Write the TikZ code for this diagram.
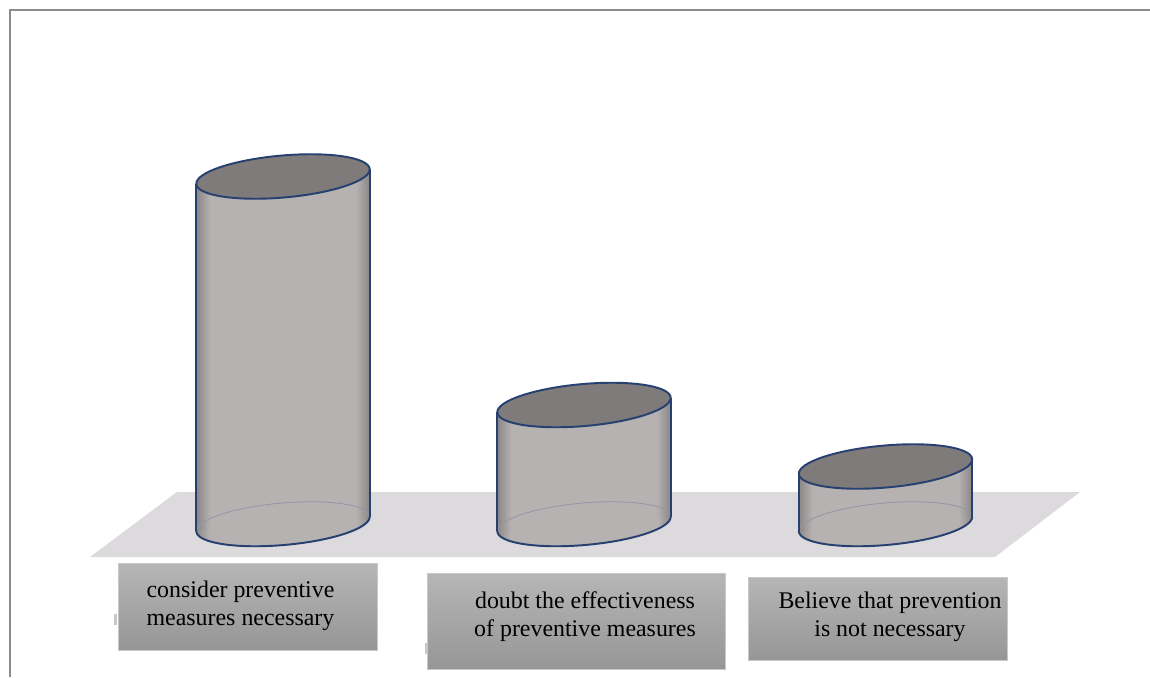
\documentclass[tikz,border=0pt]{standalone}
\usepackage{fontspec}
\setmainfont{Liberation Serif}

\definecolor{floorgray}{RGB}{220,218,220}
\definecolor{bodymid}{RGB}{182,178,178}
\definecolor{bodyedge}{RGB}{138,134,134}
\definecolor{topgray}{RGB}{128,123,123}
\definecolor{rimblue}{RGB}{38,64,112}
\definecolor{backrim}{RGB}{150,150,168}
\definecolor{boxtop}{RGB}{182,182,182}
\definecolor{boxbottom}{RGB}{150,150,150}
\definecolor{boxline}{RGB}{200,200,200}
\definecolor{framegray}{RGB}{140,140,140}

\pgfdeclarehorizontalshading{cylbody}{100bp}{color(0bp)=(bodyedge); color(25bp)=(bodyedge); color(29bp)=(bodymid); color(71bp)=(bodymid); color(75bp)=(bodyedge); color(100bp)=(bodyedge)}

\tikzset{
  labelbox/.style={draw=boxline, top color=boxtop, bottom color=boxbottom, inner sep=0pt},
  labeltext/.style={align=center, font=\fontsize{13.6}{16}\selectfont, inner sep=0pt},
  rim/.style={draw=rimblue, line width=1.1pt}
}

\begin{document}
\begin{tikzpicture}[x=0.02cm, y=-0.02cm]
    \useasboundingbox (0,0) rectangle (1150,677);

    % frame and floor
    \draw[framegray, line width=0.8pt] (10,677) -- (10,10) -- (1150,10);
    \fill[floorgray] (177,492) -- (1080,492) -- (995,557) -- (90,557) -- cycle;

    % cylinders: centre x / centre y of the top, base at y=524
    \foreach \cx/\ty in {283/176.5, 584/405, 885.5/466.5} {
        \def\topell{(\cx,\ty) ellipse [x radius=87, y radius=21, rotate=5]}
        \def\baseell{(\cx,524) ellipse [x radius=87, y radius=21, rotate=5]}

        \shade[shading=cylbody] \baseell;
        \shade[shading=cylbody] (\cx-86.7,531.1) -- (\cx-86.7,\ty+7.1)
            -- (\cx+86.7,\ty-7.1) -- (\cx+86.7,516.9) -- cycle;
        \draw[backrim, line width=0.5pt] \baseell;
        \begin{scope}
            \clip (\cx-95,531.8) -- (\cx+95,516.2) -- (\cx+95,560) -- (\cx-95,560) -- cycle;
            \draw[rim] \baseell;
        \end{scope}
        \fill[topgray] \topell;
        \draw[rim] \topell;
        \draw[rim] (\cx-86.7,531.1) -- (\cx-86.7,\ty+7.1);
        \draw[rim] (\cx+86.7,516.9) -- (\cx+86.7,\ty-7.1);
    }

    % category labels
    \fill[boxline] (114,614) rectangle (117,625);
    \fill[boxline] (425,643) rectangle (428,654);

    \node[labelbox, minimum width=5.18cm, minimum height=1.74cm] (box1) at (247.5,606.5) {};
    \node[labelbox, minimum width=5.96cm, minimum height=1.92cm] (box2) at (576,621) {};
    \node[labelbox, minimum width=5.18cm, minimum height=1.66cm] (box3) at (877.5,618.5) {};

    \node[labeltext] (lab1) at (240.5,605.4) {consider preventive\\measures necessary};
    \node[labeltext] (lab2) at (585,616.4) {doubt the effectiveness\\of preventive measures};
    \node[labeltext] (lab3) at (890,616.4) {Believe that prevention\\is not necessary};
\end{tikzpicture}
\end{document}
